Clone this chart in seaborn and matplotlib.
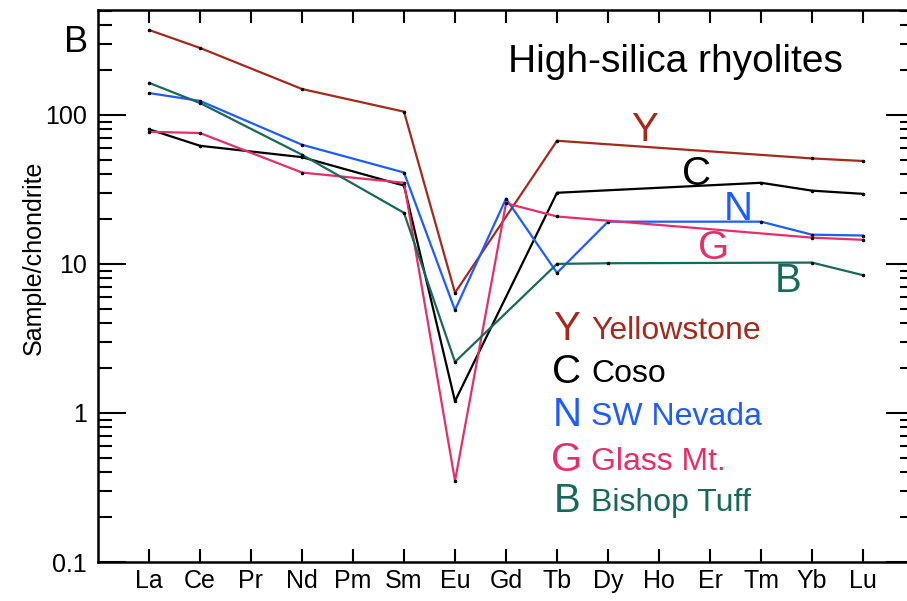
import numpy as np
import pandas as pd
import matplotlib
matplotlib.use("Agg")
import matplotlib.pyplot as plt
import seaborn as sns
from matplotlib.ticker import LogLocator, FixedLocator, FixedFormatter, NullFormatter

# Rare earth elements, in order along the x axis
elements = ["La", "Ce", "Pr", "Nd", "Pm", "Sm", "Eu", "Gd", "Tb",
            "Dy", "Ho", "Er", "Tm", "Yb", "Lu"]

# Chondrite-normalised abundances (only the analysed elements of each suite)
yellowstone_el = ["La", "Ce", "Nd", "Sm", "Eu", "Tb", "Yb", "Lu"]
yellowstone_val = [371, 281, 149, 105, 6.4, 67, 51, 49]

coso_el = ["La", "Ce", "Nd", "Sm", "Eu", "Tb", "Tm", "Yb", "Lu"]
coso_val = [80, 62, 52, 33.5, 1.2, 30, 35, 31, 29.5]

nevada_el = ["La", "Ce", "Nd", "Sm", "Eu", "Gd", "Tb", "Dy", "Tm", "Yb", "Lu"]
nevada_val = [140, 124, 63, 41, 4.9, 27.4, 8.7, 19.2, 19.2, 15.7, 15.5]

glass_el = ["La", "Ce", "Nd", "Sm", "Eu", "Gd", "Tb", "Yb", "Lu"]
glass_val = [77, 75.5, 41, 35, 0.35, 25.5, 20.8, 15, 14.5]

bishop_el = ["La", "Ce", "Nd", "Sm", "Eu", "Tb", "Dy", "Yb", "Lu"]
bishop_val = [164, 120, 54, 22, 2.2, 10, 10.1, 10.2, 8.4]

suites = ["Yellowstone", "Coso", "SW Nevada", "Glass Mt.", "Bishop Tuff"]
codes = ["Y", "C", "N", "G", "B"]
colors = ["#a32a1c", "#000000", "#1f5cff", "#e62e6a", "#18695a"]

frames = []
for name, els, vals in [("Yellowstone", yellowstone_el, yellowstone_val),
                        ("Coso", coso_el, coso_val),
                        ("SW Nevada", nevada_el, nevada_val),
                        ("Glass Mt.", glass_el, glass_val),
                        ("Bishop Tuff", bishop_el, bishop_val)]:
    frames.append(pd.DataFrame({
        "suite": name,
        "pos": [elements.index(e) for e in els],
        "value": vals,
    }))
df = pd.concat(frames, ignore_index=True)

sns.set_style("ticks")
plt.rcParams["font.family"] = ["Liberation Sans", "DejaVu Sans"]
plt.rcParams.update({"text.color": "black", "axes.labelcolor": "black",
                     "xtick.color": "black", "ytick.color": "black",
                     "axes.edgecolor": "black"})

W, H = 907, 601
fig = plt.figure(figsize=(W / 100, H / 100), dpi=100)
ax = fig.add_axes([98 / W, 39 / H, (914 - 98) / W, (562 - 10) / H])


def fig_xy(px, py):
    """Pixel position (from top-left) to figure fraction."""
    return px / W, 1 - py / H


sns.lineplot(data=df, x="pos", y="value", hue="suite", hue_order=suites,
             palette=colors, estimator=None, sort=True, legend=False,
             linewidth=1.6, marker="o", markersize=1.8,
             markerfacecolor="black", markeredgecolor="black", ax=ax)

ax.set_yscale("log")
ax.set_ylim(0.1, 505)
ax.set_xlim(-1, 15.0)

ax.set_xticks(range(len(elements)))
ax.set_xticklabels(elements)
ax.yaxis.set_major_locator(FixedLocator([0.1, 1, 10, 100]))
ax.yaxis.set_major_formatter(FixedFormatter(["0.1", "1", "10", "100"]))
ax.yaxis.set_minor_locator(LogLocator(base=10, subs=np.arange(2, 10)))
ax.yaxis.set_minor_formatter(NullFormatter())

ax.tick_params(axis="x", which="major", direction="in", length=9.5, width=1.5,
               top=True, bottom=True, pad=5, labelsize=18)
ax.tick_params(axis="y", which="major", direction="in", length=20, width=1.5,
               left=True, right=True, pad=8, labelsize=18)
ax.tick_params(axis="y", which="minor", direction="in", length=10, width=1.5,
               left=True, right=True)
for s in ax.spines.values():
    s.set_linewidth(1.8)
    s.set_visible(True)

ax.set_xlabel("")
ax.set_ylabel("Sample/chondrite", fontsize=18)
ax.yaxis.set_label_coords((46 - 98) / (914 - 98), (562 - 258) / (562 - 10))

# Panel letter and title
fig.text(*fig_xy(64, 52), "B", fontsize=26, ha="left", va="baseline")
fig.text(*fig_xy(508, 72), "High-silica rhyolites", fontsize=28,
         ha="left", va="baseline")

# Curve labels
curve_labels = [(645, 141), (697, 185), (738, 220), (714, 259), (788, 292)]
for (px, py), code, c in zip(curve_labels, codes, colors):
    fig.text(*fig_xy(px, py), code, color=c, fontsize=29,
             ha="center", va="baseline")

# Key
key_base = [340, 383, 426, 471, 512]
for code, name, c, py in zip(codes, suites, colors, key_base):
    fig.text(*fig_xy(567, py), code, color=c, fontsize=29,
             ha="center", va="baseline")
    fig.text(*fig_xy(591, py - 1), name, color=c, fontsize=23,
             ha="left", va="baseline")

fig.savefig("out.png", dpi=100)
